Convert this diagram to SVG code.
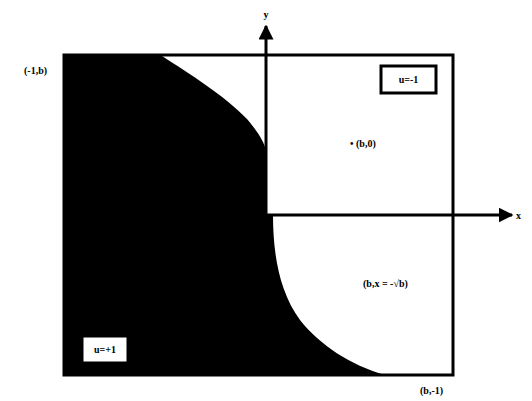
<svg xmlns="http://www.w3.org/2000/svg" width="532" height="401" viewBox="0 0 532 401">
<style>
.t{font-family:"Liberation Serif","Times New Roman",serif;font-weight:bold;font-size:10px;fill:#000}
.ax{stroke:#000;stroke-width:3;fill:none}
</style>
<defs>
<marker id="ah" viewBox="0 0 10 10" refX="9" refY="5" markerWidth="5" markerHeight="5" orient="auto" markerUnits="strokeWidth">
<path d="M0,0 L10,5 L0,10 Z" fill="#000"/>
</marker>
</defs>
<rect width="532" height="401" fill="#fff"/>
<g id="region">
<path d="M64,55 L162,56 C190,74 225,96 247,119 C258,132 264,142 266,150 L266,215 L273,215 C273,250 278,290 300,320 C320,345 350,365 385,375 L64,375 Z" fill="#000"/>
<rect x="64" y="55" width="389" height="320" fill="none" stroke="#000" stroke-width="3"/>
</g>
<g id="axes">
<line class="ax" x1="266" y1="215" x2="266" y2="26" marker-end="url(#ah)"/>
<line class="ax" x1="266" y1="215" x2="512" y2="215" marker-end="url(#ah)"/>
</g>
<g id="labels">
<text class="t" x="266" y="18" text-anchor="middle">y</text>
<text class="t" x="516" y="219">x</text>
<text class="t" x="24" y="74">(-1,b)</text>
<g id="box-top">
<rect x="381" y="66" width="55" height="27" fill="#fff" stroke="#000" stroke-width="3"/>
<text class="t" x="408.5" y="83" text-anchor="middle">u=-1</text>
</g>
<text class="t" x="350" y="147">• (b,0)</text>
<text class="t" x="363" y="287">(b,x = -√b)</text>
<g id="box-bottom">
<rect x="83" y="337" width="44" height="25" fill="#fff" stroke="#000" stroke-width="1"/>
<text class="t" x="105" y="353" text-anchor="middle">u=+1</text>
</g>
<text class="t" x="420" y="394">(b,-1)</text>
</g>
</svg>
